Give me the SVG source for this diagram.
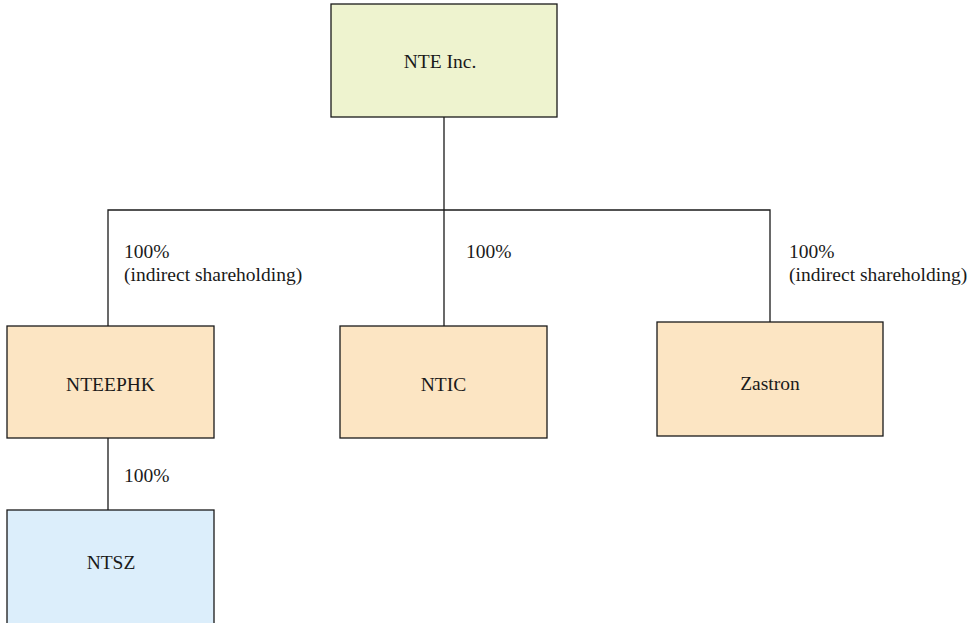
<svg xmlns="http://www.w3.org/2000/svg" width="976" height="623" viewBox="0 0 976 623">
<style>
.box{stroke:#1a1a1a;stroke-width:1.3}
text{font-family:'Liberation Serif','Times New Roman','DejaVu Serif',serif;font-size:19.5px;fill:#1a1a1a}
.c{text-anchor:middle}
.ln{stroke:#1a1a1a;stroke-width:1.3;fill:none}
</style>
<rect width="976" height="623" fill="#ffffff"/>
<g id="connectors">
<path class="ln" d="M444 117 V326"/>
<path class="ln" d="M108 326 V210 H770 V322"/>
<path class="ln" d="M108 438 V510"/>
<text x="124" y="258">100%</text>
<text x="124" y="281">(indirect shareholding)</text>
<text x="466" y="258">100%</text>
<text x="789" y="258">100%</text>
<text x="789" y="281">(indirect shareholding)</text>
<text x="124" y="482">100%</text>
</g>
<g id="nte">
<rect class="box" x="331" y="4" width="226" height="113" fill="#EEF3CF"/>
<text class="c" x="440" y="68">NTE Inc.</text>
</g>
<g id="nteephk">
<rect class="box" x="7" y="326" width="207" height="112" fill="#FCE5C3"/>
<text class="c" x="110.5" y="391">NTEEPHK</text>
</g>
<g id="ntic">
<rect class="box" x="340" y="326" width="207" height="112" fill="#FCE5C3"/>
<text class="c" x="443.5" y="391">NTIC</text>
</g>
<g id="zastron">
<rect class="box" x="657" y="322" width="226" height="114" fill="#FCE5C3"/>
<text class="c" x="770" y="390">Zastron</text>
</g>
<g id="ntsz">
<rect class="box" x="7" y="510" width="207" height="120" fill="#DCEEFB"/>
<text class="c" x="111" y="569">NTSZ</text>
</g>
</svg>
